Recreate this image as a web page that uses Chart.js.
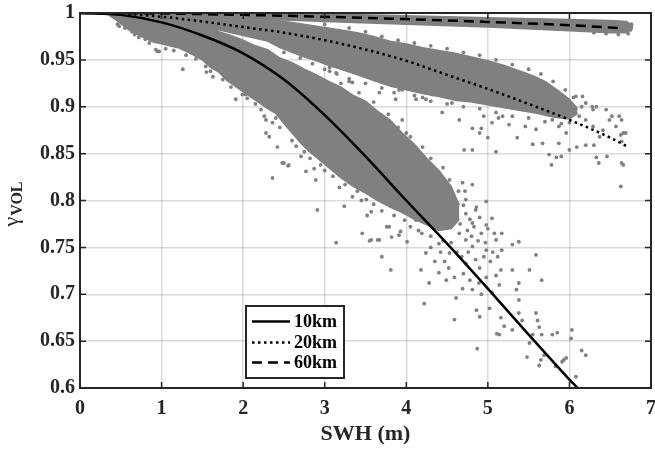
<!DOCTYPE html>
<html>
<head>
<meta charset="utf-8">
<script src="https://cdn.jsdelivr.net/npm/chart.js@4.4.1/dist/chart.umd.min.js"></script>
<style>
  html, body { margin: 0; padding: 0; background: #fff; }
  #wrap { width: 655px; height: 450px; }
</style>
</head>
<body>
<div id="wrap"><canvas id="chart" width="655" height="450"></canvas></div>
<script>
// axis ticks
const xTickValues = [0, 1, 2, 3, 4, 5, 6, 7];
const xTickLabels = ['0', '1', '2', '3', '4', '5', '6', '7'];
const yTickValues = [0.6, 0.65, 0.7, 0.75, 0.8, 0.85, 0.9, 0.95, 1];
const yTickLabels = ['0.6', '0.65', '0.7', '0.75', '0.8', '0.85', '0.9', '0.95', '1'];

const seriesLabels = ['10km', '20km', '60km'];

// model curves
const curve10X = [0, 0.5, 1, 1.5, 2, 2.5, 3, 3.5, 4, 4.5, 5, 5.5, 6, 6.1];
const curve10Y = [1, 0.998, 0.99, 0.976, 0.957, 0.929, 0.891, 0.847, 0.8, 0.754, 0.706, 0.657, 0.609, 0.6];
const curve20X = [0, 0.5, 1, 1.5, 2, 2.5, 3, 3.5, 4, 4.5, 5, 5.5, 6, 6.5, 6.7];
const curve20Y = [1, 0.9995, 0.996, 0.991, 0.985, 0.979, 0.971, 0.961, 0.949, 0.934, 0.919, 0.903, 0.886, 0.867, 0.858];
const curve60X = [0, 1, 2, 3, 4, 5, 6, 6.6];
const curve60Y = [1, 0.9995, 0.998, 0.996, 0.9935, 0.9905, 0.987, 0.984];

// dense cores of the three point clouds: upper and lower edges
const core10UpX = [0.35, 0.6, 0.9, 1.2, 1.4, 1.55, 1.7, 1.85, 2.0, 2.15, 2.3, 2.45, 2.6, 2.75, 2.9, 3.05, 3.2, 3.35, 3.5, 3.65, 3.8, 3.95, 4.1, 4.25, 4.4, 4.55, 4.65];
const core10UpY = [1.0, 1.0, 1.0, 0.997, 0.993, 0.988, 0.98, 0.976, 0.971, 0.965, 0.961, 0.952, 0.947, 0.94, 0.934, 0.927, 0.921, 0.912, 0.906, 0.895, 0.886, 0.872, 0.86, 0.845, 0.832, 0.815, 0.795];
const core10LoX = [0.35, 0.45, 0.6, 0.75, 0.9, 1.05, 1.2, 1.35, 1.5, 1.6, 1.7, 1.8, 1.9, 2.0, 2.1, 2.2, 2.3, 2.4, 2.5, 2.6, 2.7, 2.8, 2.9, 3.05, 3.2, 3.35, 3.5, 3.65, 3.8, 3.95, 4.1, 4.25, 4.4, 4.55, 4.65];
const core10LoY = [0.998, 0.992, 0.982, 0.975, 0.969, 0.966, 0.963, 0.957, 0.95, 0.942, 0.937, 0.928, 0.922, 0.916, 0.91, 0.904, 0.898, 0.893, 0.882, 0.872, 0.862, 0.853, 0.846, 0.835, 0.824, 0.815, 0.808, 0.8, 0.793, 0.787, 0.78, 0.774, 0.768, 0.77, 0.78];

const core20UpX = [0.45, 1.0, 1.5, 2.0, 2.3, 2.6, 2.9, 3.2, 3.4, 3.6, 3.8, 4.0, 4.2, 4.4, 4.6, 4.8, 5.0, 5.2, 5.4, 5.55, 5.7, 5.85, 6.0, 6.1];
const core20UpY = [1.0, 1.0, 0.999, 0.996, 0.993, 0.99, 0.986, 0.982, 0.979, 0.975, 0.97, 0.967, 0.963, 0.96, 0.957, 0.953, 0.949, 0.944, 0.938, 0.933, 0.927, 0.918, 0.908, 0.898];
const core20LoX = [0.45, 0.7, 1.0, 1.4, 1.7, 2.0, 2.3, 2.45, 2.6, 2.75, 2.9, 3.05, 3.2, 3.4, 3.6, 3.8, 4.0, 4.2, 4.4, 4.6, 4.8, 5.0, 5.2, 5.4, 5.6, 5.8, 6.0, 6.1];
const core20LoY = [0.999, 0.997, 0.992, 0.987, 0.982, 0.976, 0.97, 0.963, 0.958, 0.953, 0.949, 0.944, 0.94, 0.934, 0.928, 0.922, 0.918, 0.914, 0.911, 0.907, 0.905, 0.902, 0.899, 0.896, 0.893, 0.889, 0.887, 0.893];

const core60UpX = [0.3, 1, 2, 3, 4, 5, 6, 6.5, 6.7, 6.78];
const core60UpY = [1.0, 1.0, 1.0, 0.999, 0.997, 0.995, 0.993, 0.992, 0.991, 0.986];
const core60LoX = [0.3, 1, 2, 3, 4, 5, 6, 6.5, 6.7, 6.78];
const core60LoY = [0.999, 0.997, 0.994, 0.991, 0.988, 0.985, 0.981, 0.979, 0.979, 0.984];

// scattered points around and outside the dense cores
const loosePoints = [
  [0.46,0.988],[0.48,0.986],[0.64,0.980],[0.67,0.977],[0.85,0.968],[0.93,0.961],[0.95,0.959],[0.97,0.959],
  [1.12,0.966],[1.26,0.940],[1.54,0.943],[1.55,0.937],[1.63,0.932],[1.91,0.908],[1.99,0.913],[2.03,0.913],
  [2.22,0.897],[2.26,0.890],[2.28,0.886],[2.28,0.872],[2.32,0.868],[2.36,0.883],[2.36,0.824],[2.42,0.857],
  [2.48,0.840],[2.50,0.840],[2.55,0.837],[2.56,0.838],[2.71,0.847],[2.77,0.831],[2.87,0.834],[2.89,0.822],
  [2.91,0.790],[2.99,0.849],[3.14,0.755],[3.18,0.814],[3.24,0.794],[3.34,0.804],[3.46,0.765],[3.51,0.801],
  [3.52,0.784],[3.55,0.757],[3.57,0.758],[3.57,0.788],[3.65,0.758],[3.67,0.758],[3.70,0.740],[3.76,0.772],
  [3.79,0.772],[3.81,0.726],[3.82,0.761],[3.91,0.763],[3.93,0.767],[4.01,0.756],[4.12,0.779],[4.18,0.726],
  [4.19,0.765],[4.22,0.690],[4.24,0.744],[4.28,0.712],[4.28,0.787],[4.40,0.723],[4.40,0.754],[4.40,0.779],
  [4.49,0.715],[4.53,0.744],[4.53,0.772],[4.56,0.793],[4.59,0.718],[4.59,0.673],[4.61,0.696],[4.65,0.765],
  [4.69,0.706],[4.73,0.733],[4.73,0.758],[4.73,0.786],[4.81,0.705],[4.81,0.751],[4.81,0.776],[4.85,0.737],
  [4.85,0.790],[4.86,0.683],[4.87,0.642],[4.89,0.712],[4.90,0.676],[4.98,0.718],[4.98,0.747],[4.98,0.774],
  [4.98,0.799],[5.02,0.685],[5.05,0.702],[5.05,0.781],[5.08,0.765],[5.10,0.758],[5.11,0.658],[5.14,0.657],
  [5.16,0.675],[5.16,0.726],[5.17,0.747],[5.17,0.765],[5.20,0.666],[5.30,0.662],[5.30,0.726],[5.30,0.753],
  [5.35,0.705],[5.38,0.680],[5.38,0.694],[5.38,0.712],[5.38,0.756],[5.42,0.672],[5.48,0.633],[5.51,0.648],
  [5.51,0.726],[5.55,0.657],[5.59,0.680],[5.59,0.742],[5.61,0.672],[5.63,0.624],[5.63,0.665],[5.65,0.630],
  [5.66,0.657],[5.66,0.715],[5.69,0.635],[5.79,0.657],[5.83,0.623],[5.85,0.659],[5.91,0.628],[5.93,0.630],
  [5.96,0.632],[6.02,0.653],[6.03,0.662],[6.08,0.612],[6.15,0.640],[6.20,0.635],
  [3.10,0.920],[3.38,0.908],[3.70,0.888],[3.71,0.873],[3.95,0.886],[4.00,0.872],[4.12,0.854],[4.16,0.847],
  [4.37,0.831],[4.53,0.822],[4.69,0.819],[4.81,0.817],[4.73,0.801],[4.86,0.793],
  [3.06,0.938],[3.34,0.926],[3.67,0.915],[3.87,0.908],[3.95,0.918],[4.08,0.927],[3.71,0.940],[3.06,0.942],
  [3.14,0.936],[3.30,0.927],[3.55,0.900],[3.91,0.918],[4.12,0.908],[4.24,0.908],[4.44,0.894],[4.65,0.886],
  [4.32,0.913],[4.20,0.910],[4.56,0.904],[4.69,0.911],[4.08,0.918],
  [4.71,0.854],[4.81,0.854],[4.81,0.877],[4.90,0.872],[4.92,0.877],[4.95,0.890],[5.00,0.867],[5.05,0.883],
  [5.10,0.852],[5.13,0.888],[5.18,0.890],[5.26,0.881],[5.36,0.867],[5.46,0.879],[5.55,0.860],[5.59,0.876],
  [5.67,0.861],[5.75,0.849],[5.78,0.838],[5.84,0.846],[5.90,0.847],[5.87,0.861],[6.00,0.854],[6.09,0.857],
  [6.20,0.859],[6.30,0.859],[6.33,0.846],[6.36,0.840],[6.46,0.847],[6.64,0.840],[6.66,0.838],[6.63,0.815],
  [6.64,0.863],[6.63,0.870],[6.69,0.872],[6.61,0.890],[6.57,0.879],[6.49,0.886],[6.41,0.875],[6.37,0.868],
  [6.29,0.879],[6.20,0.886],[6.15,0.900],[6.12,0.890],[6.03,0.897],[6.08,0.911],[6.00,0.883],[5.96,0.872],
  [5.87,0.879],[5.79,0.886],[5.71,0.894],[6.33,0.900],[6.45,0.897],[6.52,0.890],[6.29,0.897],[6.20,0.904],
  [6.00,0.904],[5.84,0.897],[5.71,0.911],[5.75,0.921],[5.66,0.927],[5.55,0.931],[6.16,0.911],[6.28,0.900],
  [6.64,0.886],[6.66,0.872],
  // ragged edge of the 10km cloud
  [0.55,0.984],[0.72,0.974],[0.80,0.972],[1.05,0.962],[1.15,0.960],[1.30,0.955],[1.42,0.951],[1.60,0.938],
  [1.75,0.929],[1.85,0.921],[2.05,0.909],[2.15,0.903],[2.40,0.888],[2.45,0.878],[2.60,0.864],[2.65,0.858],
  [2.75,0.852],[2.82,0.845],[2.95,0.838],[3.00,0.832],[3.10,0.826],[3.25,0.817],[3.40,0.810],[3.45,0.800],
  [3.60,0.796],[3.70,0.789],[3.85,0.784],[3.98,0.779],[4.05,0.772],[4.15,0.768],[4.30,0.762],[4.45,0.757],
  [4.60,0.790],[4.62,0.780],[4.66,0.775],[4.70,0.795],[4.75,0.768],[4.78,0.780],[4.80,0.762],[4.83,0.772],
  [4.88,0.757],[4.90,0.782],[4.92,0.765],[4.95,0.740],[4.97,0.755],[5.00,0.770],[5.03,0.735],[5.06,0.745],
  [5.10,0.720],[5.12,0.740],[5.14,0.710],[4.62,0.745],[4.68,0.740],[4.70,0.722],[4.76,0.745],[4.78,0.715],
  [4.90,0.728],[4.92,0.700],[4.45,0.800],[4.50,0.810],[4.58,0.805],[4.64,0.810],[4.72,0.810],[4.42,0.745],
  [4.47,0.735],[4.35,0.735],[4.30,0.750],[4.52,0.728],[4.55,0.755],
  [3.00,0.928],[3.20,0.925],[3.42,0.915],[3.60,0.905],[3.78,0.892],[3.90,0.878],[4.05,0.868],[4.20,0.857],
  [4.30,0.845],[4.45,0.835],
  // ragged edges of the 20km cloud
  [2.50,0.958],[2.70,0.952],[2.85,0.946],[3.00,0.940],[3.15,0.935],[3.30,0.930],[3.50,0.925],[3.70,0.920],
  [3.85,0.915],[4.10,0.912],[4.30,0.906],[4.50,0.903],[4.70,0.900],[4.90,0.898],[5.10,0.894],[5.30,0.890],
  [5.50,0.888],[5.70,0.884],[5.90,0.882],
  [3.00,0.988],[3.30,0.984],[3.50,0.980],[3.70,0.975],[3.90,0.971],[4.10,0.968],[4.30,0.965],[4.50,0.962],
  [4.70,0.958],[4.90,0.955],[5.10,0.950],[5.30,0.945],[5.50,0.940],[5.65,0.935],[5.80,0.927],[5.95,0.918],
  [6.05,0.910],
  // ragged end of the 60km cloud
  [6.60,0.990],[6.70,0.989],[6.75,0.982],[6.72,0.978],[6.60,0.977],[6.45,0.978],[6.30,0.979],[6.68,0.985],
  [6.76,0.988]
];

const GRAY = '#808080';
const INK = '#262626';
const SERIF = "'Liberation Serif', 'Times New Roman', serif";

const toXY = (xs, ys) => xs.map((x, i) => ({ x, y: ys[i] }));

// upper edge fills down to the lower edge (next dataset)
const band = (upX, upY, loX, loY) => [
  { type: 'line', data: toXY(upX, upY), fill: '+1', backgroundColor: GRAY, borderColor: GRAY,
    borderWidth: 1.5, pointRadius: 0, order: 3 },
  { type: 'line', data: toXY(loX, loY), fill: false, borderColor: GRAY,
    borderWidth: 1.5, pointRadius: 0, order: 3 },
];

const curve = (label, xs, ys, dash) => ({
  type: 'line', label, data: toXY(xs, ys), borderColor: '#000', borderWidth: 2.5,
  borderDash: dash, pointRadius: 0, fill: false, cubicInterpolationMode: 'monotone', order: 0,
});

const lines = [
  curve(seriesLabels[0], curve10X, curve10Y, []),
  curve(seriesLabels[1], curve20X, curve20Y, [2.5, 3.5]),
  curve(seriesLabels[2], curve60X, curve60Y, [10, 6]),
];

// frame, inner ticks, y title and the boxed legend, MATLAB style
const decor = {
  id: 'decor',
  afterDraw(chart) {
    const { ctx, chartArea: a, scales: { x, y } } = chart;
    ctx.save();
    ctx.strokeStyle = INK;
    ctx.lineWidth = 1.5;
    ctx.beginPath();
    xTickValues.forEach(v => {
      const p = x.getPixelForValue(v);
      ctx.moveTo(p, a.bottom); ctx.lineTo(p, a.bottom - 6);
      ctx.moveTo(p, a.top); ctx.lineTo(p, a.top + 6);
    });
    yTickValues.forEach(v => {
      const p = y.getPixelForValue(v);
      ctx.moveTo(a.left, p); ctx.lineTo(a.left + 6, p);
      ctx.moveTo(a.right, p); ctx.lineTo(a.right - 6, p);
    });
    ctx.stroke();
    ctx.lineWidth = 2;
    ctx.strokeRect(a.left, a.top, a.right - a.left, a.bottom - a.top);

    // y title: gamma with bold VOL subscript
    ctx.save();
    ctx.translate(18, (a.top + a.bottom) / 2 + 4);
    ctx.rotate(-Math.PI / 2);
    ctx.fillStyle = INK;
    ctx.textBaseline = 'alphabetic';
    ctx.font = `22px ${SERIF}`;
    const wg = ctx.measureText('γ').width;
    ctx.font = `bold 16px ${SERIF}`;
    const ws = ctx.measureText('VOL').width;
    const u0 = -(wg + ws) / 2;
    ctx.font = `22px ${SERIF}`;
    ctx.fillText('γ', u0, 0);
    ctx.font = `bold 16px ${SERIF}`;
    ctx.fillText('VOL', u0 + wg + 1, 4);
    ctx.restore();

    // legend box
    const lx = 246, ly = 306, lw = 98, lh = 72;
    ctx.fillStyle = '#fff';
    ctx.fillRect(lx, ly, lw, lh);
    ctx.lineWidth = 2;
    ctx.strokeStyle = INK;
    ctx.strokeRect(lx, ly, lw, lh);
    const rows = [321.5, 342.5, 362.5];
    lines.forEach((ds, i) => {
      ctx.beginPath();
      ctx.strokeStyle = '#000';
      ctx.lineWidth = ds.borderWidth;
      ctx.setLineDash(ds.borderDash);
      ctx.moveTo(252, rows[i]);
      ctx.lineTo(290, rows[i]);
      ctx.stroke();
      ctx.setLineDash([]);
      ctx.fillStyle = '#000';
      ctx.font = `bold 18px ${SERIF}`;
      ctx.textBaseline = 'middle';
      ctx.textAlign = 'left';
      ctx.fillText(ds.label, 294, rows[i] + 1);
    });
    ctx.restore();
  },
};

new Chart(document.getElementById('chart'), {
  type: 'scatter',
  data: {
    datasets: [
      ...lines,
      { type: 'scatter', data: loosePoints.map(([x, y]) => ({ x, y })), backgroundColor: GRAY,
        borderWidth: 0, pointRadius: 1.9, order: 2 },
      ...band(core10UpX, core10UpY, core10LoX, core10LoY),
      ...band(core20UpX, core20UpY, core20LoX, core20LoY),
      ...band(core60UpX, core60UpY, core60LoX, core60LoY),
    ],
  },
  options: {
    responsive: false,
    animation: false,
    layout: { padding: { left: 0, right: 4, top: 13, bottom: 0 } },
    plugins: { legend: { display: false }, tooltip: { enabled: false } },
    scales: {
      x: {
        type: 'linear', min: 0, max: 7,
        afterBuildTicks: s => { s.ticks = xTickValues.map(value => ({ value })); },
        afterFit: s => { s.height = 62; s.paddingLeft = 0; s.paddingRight = 0; },
        grid: { color: 'rgba(0,0,0,0.14)', lineWidth: 1.5, drawTicks: false },
        border: { display: false },
        ticks: {
          padding: 9, color: INK, font: { family: SERIF, size: 20, weight: 'bold' },
          callback: v => xTickLabels[xTickValues.indexOf(v)] ?? '',
        },
        title: {
          display: true, text: 'SWH (m)', color: INK, padding: { top: 0, bottom: 2 },
          font: { family: SERIF, size: 22, weight: 'bold' },
        },
      },
      y: {
        type: 'linear', min: 0.6, max: 1,
        afterBuildTicks: s => { s.ticks = yTickValues.map(value => ({ value })); },
        afterFit: s => { s.width = 80; s.paddingTop = 0; s.paddingBottom = 0; },
        grid: { color: 'rgba(0,0,0,0.14)', lineWidth: 1.5, drawTicks: false },
        border: { display: false },
        ticks: {
          padding: 5, color: INK, font: { family: SERIF, size: 20, weight: 'bold' },
          callback: v => {
            const k = yTickValues.findIndex(t => Math.abs(t - v) < 1e-6);
            return k >= 0 ? yTickLabels[k] : '';
          },
        },
      },
    },
  },
  plugins: [decor],
});
</script>
</body>
</html>
